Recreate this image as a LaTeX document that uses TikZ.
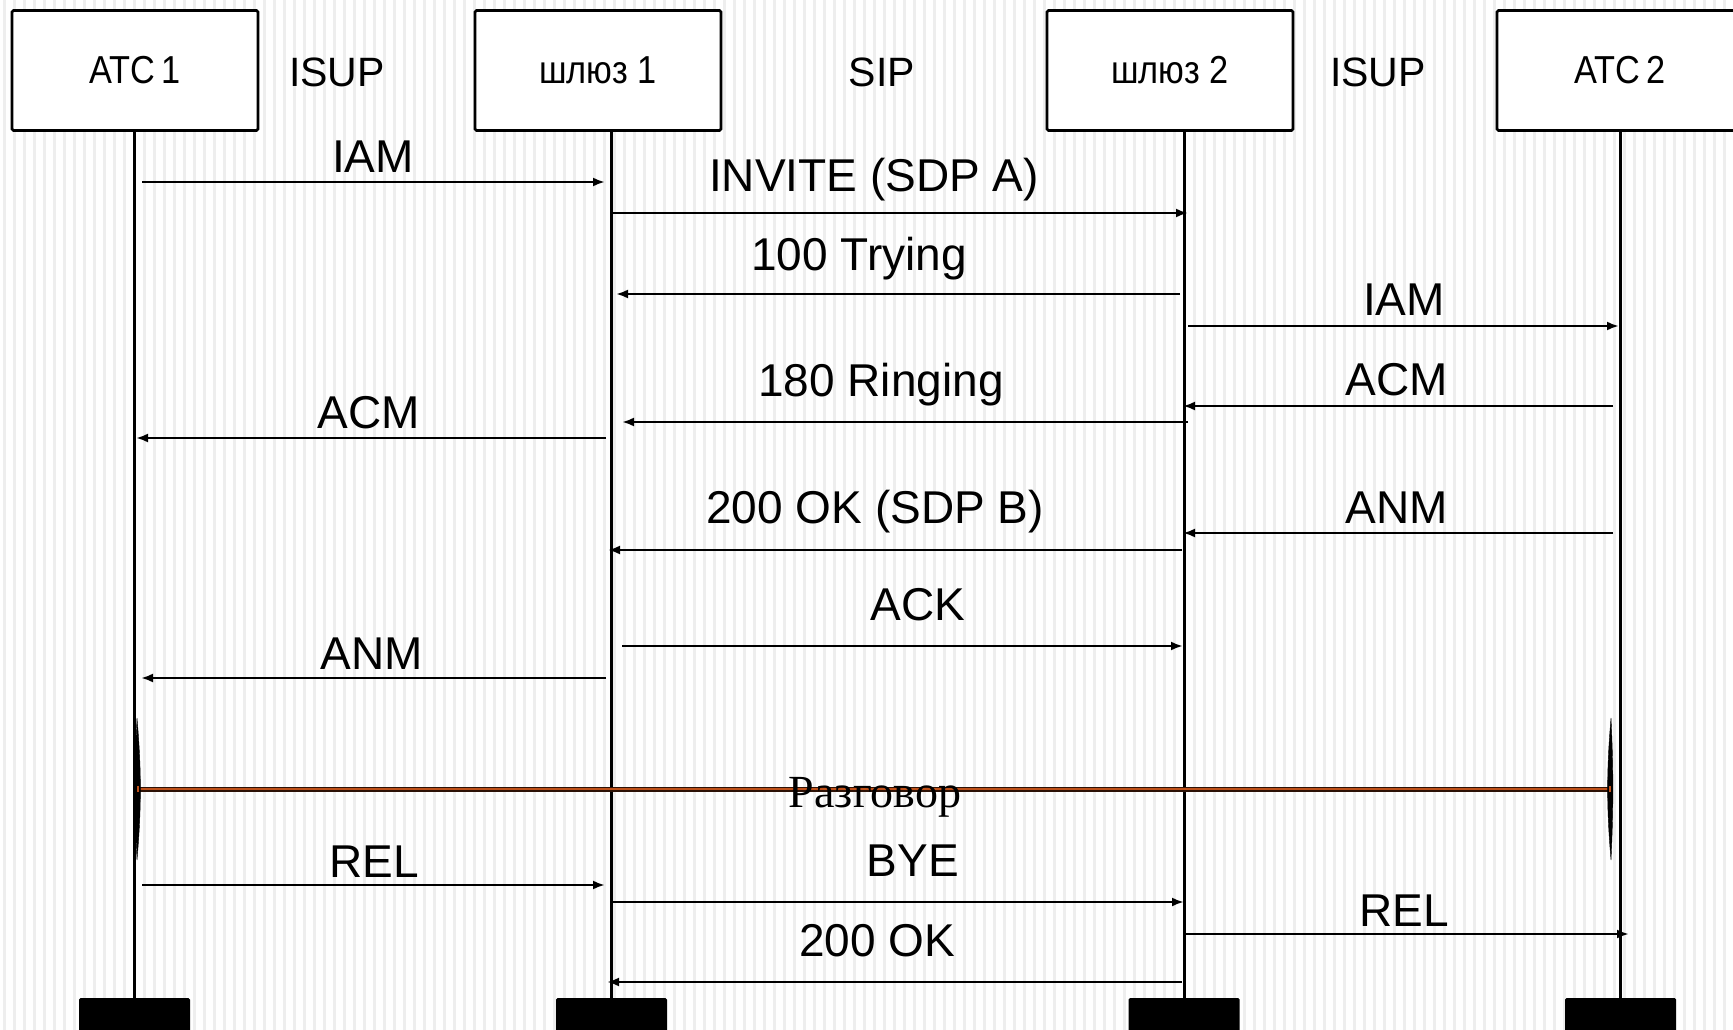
\documentclass[tikz,border=0pt]{standalone}
\usepackage{fontspec}
\setmainfont{Liberation Sans}
\newfontfamily\serifru{Liberation Serif}
\newfontfamily\boxfont[FakeStretch=0.88]{Liberation Sans}
\usetikzlibrary{arrows.meta}
\definecolor{talkdark}{RGB}{45,18,6}
\definecolor{talkcore}{RGB}{190,80,25}
\begin{document}
\begin{tikzpicture}[x=1pt,y=-1pt,
  box/.style={draw, line width=2.6pt, fill=white, rounded corners=1.5pt, minimum width=246pt, minimum height=120pt, inner sep=0pt, font=\boxfont\fontsize{39}{42}\selectfont},
  lbl/.style={font=\fontsize{46}{50}\selectfont, anchor=base, inner sep=0pt},
  hdr/.style={font=\fontsize{41}{45}\selectfont, anchor=base, inner sep=0pt},
  life/.style={line width=3pt},
  msg/.style={line width=2.3pt, -{Latex[length=12pt,width=9pt]}},
  bar/.style={fill=black, rounded corners=1.5pt, minimum width=111pt, minimum height=45pt, inner sep=0pt},
  spindle/.style={fill=black, draw=black, line width=0.4pt}]
\useasboundingbox (0,0) rectangle (1733,1030);
\clip (0,0) rectangle (1733,1030);
\fill[white] (0,0) rectangle (1733,1030);
\foreach \i in {0,...,173} {\fill[gray!13] (\i*10+3,0) rectangle (\i*10+5.5,1030);}

% participants
\node[box] (atc1) at (135,70.5) {АТС\,1};
\node[box] (sh1) at (598,70.5) {шлюз 1};
\node[box] (sh2) at (1170,70.5) {шлюз 2};
\node[box] (atc2) at (1620,70.5) {АТС\,2};

\node[hdr] (p1) at (337,87) {ISUP};
\node[hdr] (p2) at (882,87) {SIP};
\node[hdr] (p3) at (1378,87) {ISUP};

% bars
\node[bar] (bar1) at (134.5,1020.5) {};
\node[bar] (bar2) at (611.5,1020.5) {};
\node[bar] (bar3) at (1184,1020.5) {};
\node[bar] (bar4) at (1620.5,1020.5) {};

% lifelines
\draw[life] (bar1.north |- atc1.south) -- (bar1.north);
\draw[life] (bar2.north |- sh1.south) -- (bar2.north);
\draw[life] (bar3.north |- sh2.south) -- (bar3.north);
\draw[life] (bar4.north |- atc2.south) -- (bar4.north);

% messages
\coordinate (m1a) at (142,182);  \coordinate (m1b) at (605,182);
\draw[msg] (m1a) -- (m1b);
\node[lbl] (t1) at (373,172) {IAM};

\coordinate (m2a) at (612,213);  \coordinate (m2b) at (1188,213);
\draw[msg] (m2a) -- (m2b);
\node[lbl] (t2) at (874,192) {INVITE (SDP A)};

\coordinate (m3a) at (1180,294); \coordinate (m3b) at (616,294);
\draw[msg] (m3a) -- (m3b);
\node[lbl] (t3) at (859,270) {100 Trying};

\coordinate (m4a) at (1188,326); \coordinate (m4b) at (1619,326);
\draw[msg] (m4a) -- (m4b);
\node[lbl] (t4) at (1404,315) {IAM};

\coordinate (m5a) at (1613,406); \coordinate (m5b) at (1183,406);
\draw[msg] (m5a) -- (m5b);
\node[lbl] (t5) at (1397,395) {ACM};

\coordinate (m6a) at (1188,422); \coordinate (m6b) at (622,422);
\draw[msg] (m6a) -- (m6b);
\node[lbl] (t6) at (881,396) {180 Ringing};

\coordinate (m7a) at (606,438);  \coordinate (m7b) at (136,438);
\draw[msg] (m7a) -- (m7b);
\node[lbl] (t7) at (369,428) {ACM};

\coordinate (m8a) at (1613,533); \coordinate (m8b) at (1183,533);
\draw[msg] (m8a) -- (m8b);
\node[lbl] (t8) at (1397,523) {ANM};

\coordinate (m9a) at (1182,550); \coordinate (m9b) at (608,550);
\draw[msg] (m9a) -- (m9b);
\node[lbl] (t9) at (875,523) {200 OK (SDP B)};

\coordinate (m10a) at (622,646); \coordinate (m10b) at (1183,646);
\draw[msg] (m10a) -- (m10b);
\node[lbl] (t10) at (918,620) {ACK};

\coordinate (m11a) at (606,678); \coordinate (m11b) at (141,678);
\draw[msg] (m11a) -- (m11b);
\node[lbl] (t11) at (372,669) {ANM};

% conversation
\coordinate (ca) at (137,789); \coordinate (cb) at (1611,789);
\draw[line width=5pt, talkdark] (ca) -- (cb);
\draw[line width=1.2pt, talkcore] (ca) -- (cb);
\fill[spindle] (137,718) .. controls (141.5,770) and (141.5,808) .. (137,860) .. controls (134.5,808) and (134.5,770) .. (137,718) -- cycle;
\fill[spindle] (1611,718) .. controls (1606.5,770) and (1606.5,808) .. (1611,860) .. controls (1613.5,808) and (1613.5,770) .. (1611,718) -- cycle;
\fill[talkcore] (137,786) rectangle (139,792);
\fill[talkcore] (1609,786) rectangle (1611,792);
\node[anchor=base, inner sep=0pt, font=\serifru\fontsize{46}{50}\selectfont] (talk) at (875,807) {Разговор};

\coordinate (m13a) at (142,885); \coordinate (m13b) at (605,885);
\draw[msg] (m13a) -- (m13b);
\node[lbl] (t13) at (374,877) {REL};

\coordinate (m14a) at (611,902); \coordinate (m14b) at (1184,902);
\draw[msg] (m14a) -- (m14b);
\node[lbl] (t14) at (913,876) {BYE};

\coordinate (m15a) at (1185,934); \coordinate (m15b) at (1629,934);
\draw[msg] (m15a) -- (m15b);
\node[lbl] (t15) at (1404,926) {REL};

\coordinate (m16a) at (1182,982); \coordinate (m16b) at (607,982);
\draw[msg] (m16a) -- (m16b);
\node[lbl] (t16) at (877,956) {200 OK};
\end{tikzpicture}
\end{document}
